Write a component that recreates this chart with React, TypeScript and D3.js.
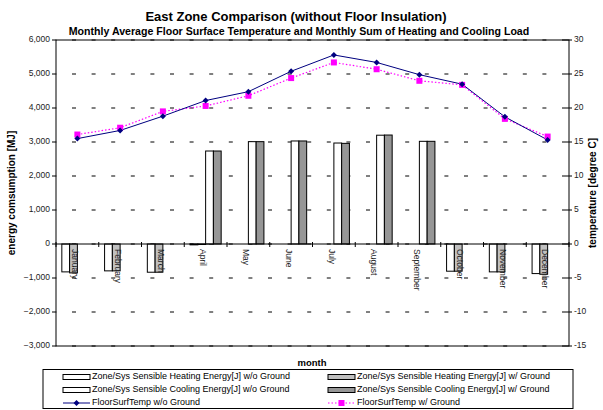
import React from "react";
import * as d3 from "d3";

const months = ["January","February","March","April","May","June","July","August","September","October","November","December"];
const heatingWo = [-820, -790, -830, -25, 0, 0, 0, 0, 0, -800, -820, -870];
const heatingW = [-850, -790, -830, -15, 0, 0, 0, 0, 0, -800, -820, -890];
const coolingWo = [0, 0, 0, 2735, 3010, 3030, 2970, 3200, 3020, 0, 0, 0];
const coolingW = [0, 0, 0, 2735, 3010, 3030, 2960, 3205, 3020, 0, 0, 0];
const tempWo = [15.5, 16.7, 18.8, 21.1, 22.4, 25.4, 27.8, 26.7, 24.9, 23.5, 18.7, 15.3];
const tempW = [16.1, 17.1, 19.5, 20.3, 21.8, 24.4, 26.7, 25.7, 24.0, 23.4, 18.4, 15.8];
const leftTicks = [-3000, -2000, -1000, 0, 1000, 2000, 3000, 4000, 5000, 6000];
const rightTicks = [-15, -10, -5, 0, 5, 10, 15, 20, 25, 30];

const W = 603, H = 410;
const L = 56, R = 569, T = 40, B = 346;
const FONT = "'Liberation Sans', Arial, sans-serif";

export default function App() {
  const x = d3.scaleBand<string>().domain(months).range([L, R]).paddingInner(0).paddingOuter(0);
  const y = d3.scaleLinear().domain([-3000, 6000]).range([B, T]);
  const yt = d3.scaleLinear().domain([-15, 30]).range([B, T]);
  const bw = x.bandwidth();
  const w = bw / 5.5;
  const off = 0.75 * w;
  const fmt = d3.format(",");

  const series = [
    { vals: heatingWo, fill: "#ffffff" },
    { vals: heatingW, fill: "#c0c0c0" },
    { vals: coolingWo, fill: "#ffffff" },
    { vals: coolingW, fill: "#969696" },
  ];

  const lineGen = d3.line<number>().x((_, i) => (x(months[i]) as number) + bw / 2).y((d) => yt(d));
  const y0 = y(0);

  return (
    <svg width={W} height={H} style={{ display: "block", position: "absolute", left: 0, top: 0, fontFamily: FONT }}>
      <rect width={W} height={H} fill="#fff" />
      <text x={296} y={21} textAnchor="middle" fontSize={13} fontWeight="bold">East Zone Comparison (without Floor Insulation)</text>
      <text x={299} y={35} textAnchor="middle" fontSize={10.6} fontWeight="bold">Monthly Average Floor Surface Temperature and Monthly Sum of Heating and Cooling Load</text>

      {leftTicks.map((t) => (
        <line key={t} x1={L} x2={R} y1={y(t)} y2={y(t)} stroke="#000" strokeWidth={1} strokeDasharray="4,15.6" strokeDashoffset={-16} />
      ))}

      {series.map((s, si) =>
        s.vals.map((v, i) => {
          if (v === 0) return null;
          const bx = (x(months[i]) as number) + off + si * w;
          const top = Math.min(y(v), y0);
          const h = Math.abs(y(v) - y0);
          return <rect key={si + "-" + i} x={bx} y={top} width={w} height={h} fill={s.fill} stroke="#000" strokeWidth={1} />;
        })
      )}

      {months.map((m) => {
        const cx = (x(m) as number) + bw / 2 - 3;
        return (
          <text key={m} transform={`translate(${cx},${y0 + 5}) rotate(90)`} fontSize={8.5} fill="#222" dominantBaseline="middle">{m}</text>
        );
      })}

      <line x1={L} x2={R} y1={y0} y2={y0} stroke="#000" strokeWidth={1} />
      {months.map((m, i) => (
        <line key={"xt" + i} x1={(x(m) as number)} x2={(x(m) as number)} y1={y0 - 2} y2={y0 + 3} stroke="#000" />
      ))}
      <line x1={R} x2={R} y1={y0 - 2} y2={y0 + 3} stroke="#000" />
      <rect x={L} y={T} width={R - L} height={B - T} fill="none" stroke="#000" strokeWidth={1} />
      {leftTicks.map((t) => (
        <g key={"lt" + t}>
          <line x1={L - 4} x2={L} y1={y(t)} y2={y(t)} stroke="#000" />
          <text x={L - 6} y={y(t)} textAnchor="end" dominantBaseline="middle" fontSize={8.5} fill="#222">{fmt(t)}</text>
        </g>
      ))}
      {rightTicks.map((t) => (
        <g key={"rt" + t}>
          <line x1={R - 3} x2={R + 3} y1={yt(t)} y2={yt(t)} stroke="#000" />
          <text x={R + 5} y={yt(t)} textAnchor="start" dominantBaseline="middle" fontSize={8.5} fill="#222">{t}</text>
        </g>
      ))}

      <path d={lineGen(tempW) as string} fill="none" stroke="#ff00ff" strokeWidth={1.2} strokeDasharray="1.5,2" />
      <path d={lineGen(tempWo) as string} fill="none" stroke="#000080" strokeWidth={1} />
      {tempW.map((v, i) => (
        <rect key={"pw" + i} x={(x(months[i]) as number) + bw / 2 - 3} y={yt(v) - 3} width={6} height={6} fill="#ff00ff" />
      ))}
      {tempWo.map((v, i) => {
        const cx = (x(months[i]) as number) + bw / 2;
        const cy = yt(v);
        return <path key={"pwo" + i} d={`M${cx},${cy - 3}L${cx + 3},${cy}L${cx},${cy + 3}L${cx - 3},${cy}Z`} fill="#000080" />;
      })}

      <text transform={`translate(15,${(T + B) / 2}) rotate(-90)`} textAnchor="middle" fontSize={10} fontWeight="bold">energy comsumption [MJ]</text>
      <text transform={`translate(596,${(T + B) / 2}) rotate(-90)`} textAnchor="middle" fontSize={10} fontWeight="bold">temperature [degree C]</text>
      <text x={312} y={366} textAnchor="middle" fontSize={9.5} fontWeight="bold">month</text>

      <rect x={43} y={369.5} width={530} height={39} fill="#fff" stroke="#000" strokeWidth={1} />
      {[
        { x0: 63, y: 377, kind: "rect", fill: "#ffffff", label: "Zone/Sys Sensible Heating Energy[J] w/o Ground" },
        { x0: 328, y: 377, kind: "rect", fill: "#c0c0c0", label: "Zone/Sys Sensible Heating Energy[J] w/ Ground" },
        { x0: 63, y: 390, kind: "rect", fill: "#ffffff", label: "Zone/Sys Sensible Cooling Energy[J] w/o Ground" },
        { x0: 328, y: 390, kind: "rect", fill: "#969696", label: "Zone/Sys Sensible Cooling Energy[J] w/ Ground" },
        { x0: 63, y: 403, kind: "wo", fill: "#000080", label: "FloorSurfTemp w/o Ground" },
        { x0: 328, y: 403, kind: "w", fill: "#ff00ff", label: "FloorSurfTemp w/ Ground" },
      ].map((it, i) => (
        <g key={"lg" + i}>
          {it.kind === "rect" && <rect x={it.x0} y={it.y - 2.5} width={27} height={5} fill={it.fill} stroke="#000" />}
          {it.kind === "wo" && (
            <g>
              <line x1={it.x0} x2={it.x0 + 27} y1={it.y} y2={it.y} stroke="#000080" />
              <path d={`M${it.x0 + 13.5},${it.y - 3}L${it.x0 + 16.5},${it.y}L${it.x0 + 13.5},${it.y + 3}L${it.x0 + 10.5},${it.y}Z`} fill="#000080" />
            </g>
          )}
          {it.kind === "w" && (
            <g>
              <line x1={it.x0} x2={it.x0 + 27} y1={it.y} y2={it.y} stroke="#ff00ff" strokeWidth={1.2} strokeDasharray="1.5,2" />
              <rect x={it.x0 + 10.5} y={it.y - 3} width={6} height={6} fill="#ff00ff" />
            </g>
          )}
          <text x={it.x0 + 29} y={it.y} dominantBaseline="middle" fontSize={9} fill="#000">{it.label}</text>
        </g>
      ))}
    </svg>
  );
}
